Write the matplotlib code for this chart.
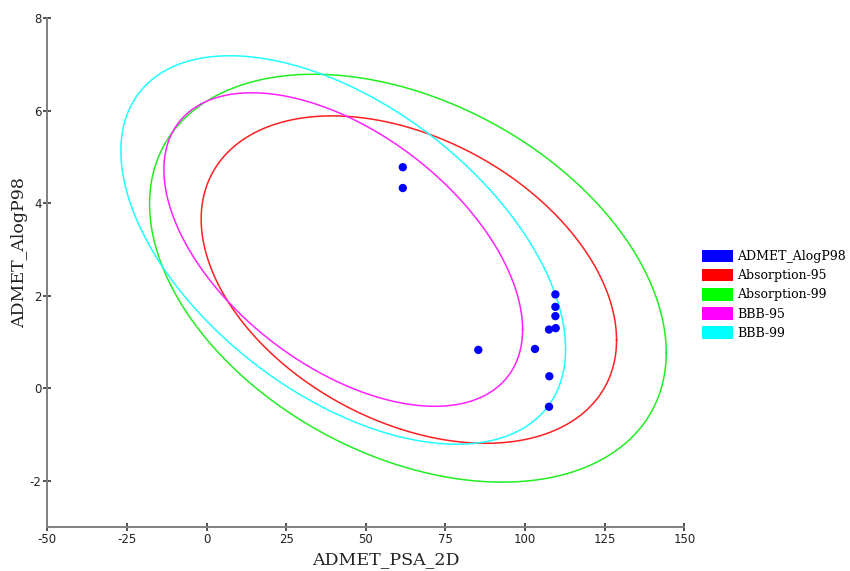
import numpy as np
import matplotlib
matplotlib.use("Agg")
import matplotlib.pyplot as plt
from matplotlib.patches import Patch
from matplotlib import font_manager

plt.rcParams["axes.unicode_minus"] = False

# ---- data ----
psa = [61.6, 61.6, 85.3, 103.1, 109.5, 109.5, 109.5, 107.5, 109.6, 107.6, 107.5]
alogp = [4.78, 4.33, 0.83, 0.85, 2.03, 1.76, 1.56, 1.27, 1.30, 0.26, -0.40]

ellipse_names = ["Absorption-95", "Absorption-99", "BBB-95", "BBB-99"]
ellipse_cx = [63.5, 63.2, 42.9, 42.9]
ellipse_cy = [2.35, 2.38, 3.00, 2.99]
ellipse_x_half = [65.2, 81.1, 56.3, 69.8]
ellipse_y_half = [3.54, 4.41, 3.39, 4.20]
ellipse_corr = [-0.37, -0.365, -0.51, -0.51]
ellipse_colors = ["#ff2020", "#22ee22", "#ff22ff", "#22ffff"]

x_ticks = [-50, -25, 0, 25, 50, 75, 100, 125, 150]
y_ticks = [-2, 0, 2, 4, 6, 8]

def has_font(name):
    try:
        font_manager.findfont(name, fallback_to_default=False)
        return True
    except Exception:
        return False

tick_family = "Liberation Sans Narrow" if has_font("Liberation Sans Narrow") else "DejaVu Sans"
serif_family = "DejaVu Serif"

fig = plt.figure(figsize=(8.5, 5.71), dpi=100)
ax = fig.add_axes([47.3 / 850, 1 - 527 / 571, (684.4 - 47.3) / 850, (527 - 18.3) / 571])

t = np.linspace(0, 2 * np.pi, 400)
for name, cx, cy, a, b, r, c in zip(ellipse_names, ellipse_cx, ellipse_cy,
                                     ellipse_x_half, ellipse_y_half, ellipse_corr, ellipse_colors):
    phi = np.arccos(r)
    ax.plot(cx + a * np.cos(t), cy + b * np.cos(t + phi), color=c, lw=1.1, zorder=2)

ax.scatter(psa, alogp, s=36, color="#0000ff", edgecolors="none", zorder=3)

ax.set_xlim(-50, 150)
ax.set_ylim(-3, 8)
ax.set_xticks(x_ticks)
ax.set_yticks(y_ticks)
for s in ["top", "right"]:
    ax.spines[s].set_visible(False)
for s in ["left", "bottom"]:
    ax.spines[s].set_color("#808080")
    ax.spines[s].set_linewidth(1.4)
ax.tick_params(direction="inout", length=6, width=1.2, color="#333333",
               labelsize=8.5, pad=1, labelcolor="#222222")
for lab in ax.get_xticklabels() + ax.get_yticklabels():
    lab.set_family(tick_family)

fig.text(386 / 850, 1 - 560 / 571, "ADMET_PSA_2D", ha="center", va="center",
         family=serif_family, fontsize=12.5, color="#222222")
fig.text(20 / 850, 1 - 253 / 571, "ADMET_AlogP98", ha="center", va="center",
         rotation=90, family=serif_family, fontsize=12.5, color="#222222")

handles = [Patch(facecolor="#0000ff", edgecolor="none")] + \
          [Patch(facecolor=c, edgecolor="none") for c in ["#ff0000", "#00ff00", "#ff00ff", "#00ffff"]]
labels = ["ADMET_AlogP98"] + ellipse_names
fig.legend(handles, labels, loc="upper left", bbox_to_anchor=(702 / 850, 1 - 249.5 / 571),
           frameon=False, borderpad=0, borderaxespad=0, handlelength=2.5, handleheight=1.2,
           handletextpad=0.3, labelspacing=0.44, prop={"family": serif_family, "size": 9})

fig.savefig("out.png", dpi=100)
